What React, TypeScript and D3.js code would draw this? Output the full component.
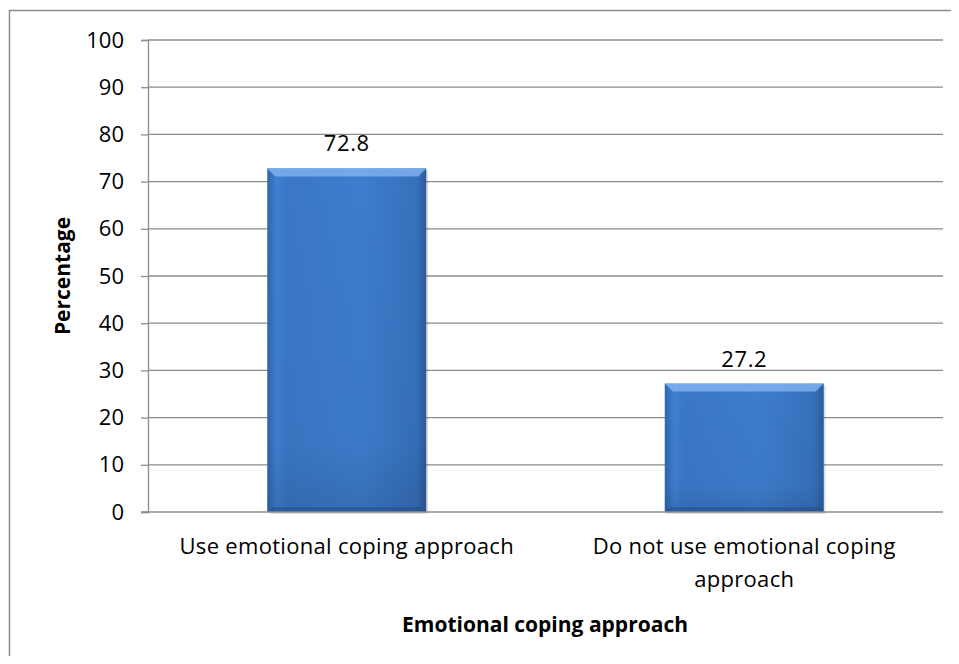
import { useRef, useEffect } from 'react';
import * as d3 from 'd3';

const categories = ['Use emotional coping approach', 'Do not use emotional coping approach'];
const categoryLines = [['Use emotional coping approach'], ['Do not use emotional coping', 'approach']];
const values = [72.8, 27.2];
const yTicks = [0, 10, 20, 30, 40, 50, 60, 70, 80, 90, 100];

const FONT = '"Open Sans", "Noto Sans", sans-serif';

export default function App() {
  const svgRef = useRef<SVGSVGElement>(null);

  useEffect(() => {
    if (!svgRef.current) return;
    const svg = d3.select(svgRef.current);
    svg.selectAll('*').remove();

    const W = 959;
    const H = 664;
    const margin = { top: 40, right: 16, bottom: 152, left: 148 };
    const width = W - margin.left - margin.right;
    const height = H - margin.top - margin.bottom;

    svg.attr('width', W).attr('height', H);

    // outer chart border
    svg
      .append('rect')
      .attr('x', 9.5)
      .attr('y', 10.5)
      .attr('width', W + 10)
      .attr('height', H + 10)
      .attr('fill', '#fff')
      .attr('stroke', '#8c8c8c')
      .attr('stroke-width', 1.5);

    const defs = svg.append('defs');
    const hg = defs
      .append('linearGradient')
      .attr('id', 'barH')
      .attr('x1', '0')
      .attr('x2', '1')
      .attr('y1', '0')
      .attr('y2', '0');
    hg.append('stop').attr('offset', '0%').attr('stop-color', '#2f66ad');
    hg.append('stop').attr('offset', '6%').attr('stop-color', '#3f80d2');
    hg.append('stop').attr('offset', '12%').attr('stop-color', '#3a77c6');
    hg.append('stop').attr('offset', '60%').attr('stop-color', '#3d7dcd');
    hg.append('stop').attr('offset', '94%').attr('stop-color', '#3670bb');
    hg.append('stop').attr('offset', '100%').attr('stop-color', '#2a5c9c');

    const vg = defs
      .append('linearGradient')
      .attr('id', 'barV')
      .attr('x1', '0')
      .attr('x2', '0')
      .attr('y1', '0')
      .attr('y2', '1');
    vg.append('stop').attr('offset', '0%').attr('stop-color', '#000').attr('stop-opacity', 0);
    vg.append('stop').attr('offset', '80%').attr('stop-color', '#000').attr('stop-opacity', 0.03);
    vg.append('stop').attr('offset', '100%').attr('stop-color', '#000').attr('stop-opacity', 0.12);

    const g = svg.append('g').attr('transform', `translate(${margin.left},${margin.top})`);

    const x = d3.scaleBand<string>().domain(categories).range([0, width]).paddingInner(0.6).paddingOuter(0.3);
    const y = d3.scaleLinear().domain([0, 100]).range([height, 0]);

    // grid
    g.append('g')
      .selectAll('line')
      .data(yTicks.filter((d) => d > 0))
      .join('line')
      .attr('x1', 0)
      .attr('x2', width)
      .attr('y1', (d) => y(d))
      .attr('y2', (d) => y(d))
      .attr('stroke', '#8c8c8c')
      .attr('stroke-width', 1.3);

    // y axis
    const yAxisG = g.append('g').call(d3.axisLeft(y).tickValues(yTicks).tickSize(7).tickPadding(17));
    yAxisG.select('.domain').attr('stroke', '#8c8c8c').attr('stroke-width', 1.3);
    yAxisG.selectAll('.tick line').attr('stroke', '#8c8c8c').attr('stroke-width', 1.3);
    yAxisG
      .selectAll('text')
      .attr('fill', '#000')
      .attr('font-size', '22px')
      .attr('font-family', FONT);

    // bars
    const bars = g.append('g');
    categories.forEach((c, i) => {
      const bx = x(c) ?? 0;
      const bw = x.bandwidth();
      const by = y(values[i]);
      const bh = height - by;
      bars
        .append('rect')
        .attr('x', bx + 2)
        .attr('y', by + 2)
        .attr('width', bw)
        .attr('height', bh)
        .attr('fill', '#000')
        .attr('opacity', 0.12);
      bars.append('rect').attr('x', bx).attr('y', by).attr('width', bw).attr('height', bh).attr('fill', 'url(#barH)');
      bars.append('rect').attr('x', bx).attr('y', by).attr('width', bw).attr('height', bh).attr('fill', 'url(#barV)');
      // top bevel
      bars
        .append('path')
        .attr(
          'd',
          `M${bx},${by} L${bx + bw},${by} L${bx + bw - 8},${by + 8} L${bx + 8},${by + 8} Z`,
        )
        .attr('fill', '#7fb0ee')
        .attr('opacity', 0.85);
      // bottom bevel
      bars
        .append('path')
        .attr(
          'd',
          `M${bx},${by + bh} L${bx + bw},${by + bh} L${bx + bw - 6},${by + bh - 5} L${bx + 6},${by + bh - 5} Z`,
        )
        .attr('fill', '#1f4a80')
        .attr('opacity', 0.45);

      g.append('text')
        .attr('x', bx + bw / 2)
        .attr('y', by - 17)
        .attr('text-anchor', 'middle')
        .attr('font-size', '22px')
        .attr('letter-spacing', '0.6px')
        .attr('font-family', FONT)
        .attr('fill', '#000')
        .text(values[i].toFixed(1));
    });

    // x axis baseline
    g.append('line')
      .attr('x1', -7)
      .attr('x2', width)
      .attr('y1', height)
      .attr('y2', height)
      .attr('stroke', '#8c8c8c')
      .attr('stroke-width', 1.3);

    // category labels
    categories.forEach((c, i) => {
      const cx = (x(c) ?? 0) + x.bandwidth() / 2;
      categoryLines[i].forEach((line, j) => {
        g.append('text')
          .attr('x', cx)
          .attr('y', height + 42 + j * 33)
          .attr('text-anchor', 'middle')
          .attr('font-size', '22px')
          .attr('letter-spacing', '0.3px')
          .attr('font-family', FONT)
          .attr('fill', '#000')
          .text(line);
      });
    });

    // axis titles
    svg
      .append('text')
      .attr('x', 545)
      .attr('y', 632)
      .attr('text-anchor', 'middle')
      .attr('font-size', '21px')
      .attr('font-weight', 'bold')
      .attr('font-family', FONT)
      .text('Emotional coping approach');

    svg
      .append('text')
      .attr('transform', `translate(70,276) rotate(-90)`)
      .attr('text-anchor', 'middle')
      .attr('font-size', '21px')
      .attr('font-weight', 'bold')
      .attr('font-family', FONT)
      .text('Percentage');
  }, []);

  return (
    <div style={{ margin: -8 }}>
      <svg ref={svgRef} style={{ display: 'block' }} />
    </div>
  );
}
